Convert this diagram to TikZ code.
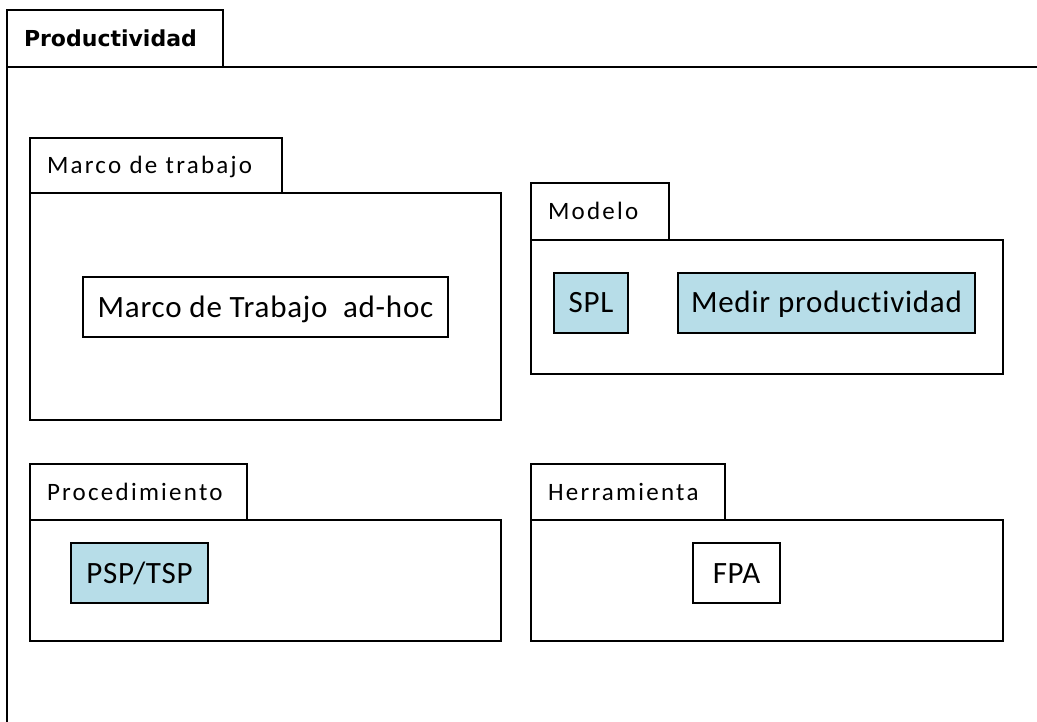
\documentclass[tikz,border=0pt]{standalone}
\usepackage{fontspec}
\setmainfont[Ligatures=NoCommon]{Carlito}
\newfontfamily\titlefont{DejaVu Sans}
\newfontfamily\tabfont[LetterSpace=9,Ligatures=NoCommon]{Carlito}
\newfontfamily\itemfont[LetterSpace=2.5,Ligatures=NoCommon]{Carlito}
\definecolor{pkgblue}{RGB}{183,221,232}
\begin{document}
\begin{tikzpicture}[x=1pt,y=-1pt,
  frameline/.style={draw=black,line width=2pt,outer sep=0pt},
  outerline/.style={draw=black,line width=2.4pt,outer sep=0pt},
  tabbox/.style={frameline,anchor=north west,inner xsep=17pt,inner ysep=0pt,align=left,
    text height=16pt,text depth=0pt,font=\tabfont\fontsize{25}{30}\selectfont},
  bodybox/.style={frameline,anchor=north west,inner sep=0pt},
  itembox/.style={frameline,anchor=north west,inner sep=0pt,align=center,
    text height=20pt,text depth=0pt,font=\itemfont\fontsize{31}{36}\selectfont},
  blueitem/.style={itembox,fill=pkgblue}]
\useasboundingbox (0,0) rectangle (1037,721);
\clip (0,0) rectangle (1037,721);
% outer package
\node[outerline,anchor=north west,inner xsep=17pt,inner ysep=0pt,align=left,
  text width=182pt,minimum height=57pt,text height=16.5pt,text depth=0pt,
  font=\titlefont\bfseries\fontsize{22}{26}\selectfont]
  (outtab) at (7,10) {Productividad};
\coordinate (outright) at (1045,0);
\coordinate (outbottom) at (0,730);
\draw[outerline] (outtab.south west) -- (outtab.south west -| outright);
\draw[outerline] (outtab.south west) -- (outtab.south west |- outbottom);
% Marco de trabajo
\node[tabbox,text width=218pt,minimum height=55pt] (mttab) at (30,138) {Marco de trabajo};
\node[bodybox,minimum width=471pt,minimum height=227pt] (mtbody) at (30,193) {};
\node[itembox,minimum width=365pt,minimum height=60pt] (mtitem) at (83,277) {Marco de Trabajo\ \ ad-hoc};
% Modelo
\node[tabbox,text width=104pt,minimum height=57pt] (motab) at (531,183) {Modelo};
\node[bodybox,minimum width=472pt,minimum height=134pt] (mobody) at (531,240) {};
\node[blueitem,minimum width=74pt,minimum height=60pt] (spl) at (554,272.5) {SPL};
\node[blueitem,minimum width=297pt,minimum height=60pt] (medir) at (678,272.5) {Medir productividad};
% Procedimiento
\node[tabbox,text width=183pt,minimum height=56pt] (prtab) at (30,464) {Procedimiento};
\node[bodybox,minimum width=471pt,minimum height=121pt] (prbody) at (30,520) {};
\node[blueitem,minimum width=137pt,minimum height=60pt] (psp) at (71,543) {PSP/TSP};
% Herramienta
\node[tabbox,text width=160pt,minimum height=56pt] (hetab) at (531,464) {Herramienta};
\node[bodybox,minimum width=472pt,minimum height=121pt] (hebody) at (531,520) {};
\node[itembox,minimum width=87pt,minimum height=60pt] (fpa) at (693,543) {FPA};
\end{tikzpicture}
\end{document}
